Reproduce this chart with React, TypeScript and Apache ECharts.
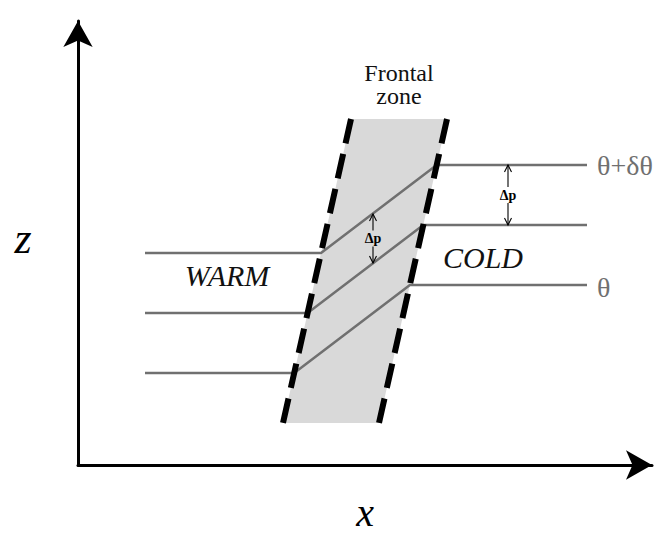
import React, { useEffect, useRef } from "react";
import * as echarts from "echarts";

// Diagram units: x to the right of the z-axis, y above the x-axis (1 unit ~ 1 px)
const xAxisMax = 574;
const yAxisMax = 444;

// Frontal zone edges, each [top, bottom]
const frontWarmEdge = [[273, 346], [205, 42]];
const frontColdEdge = [[369, 346], [301, 42]];

// Isentropes (top to bottom): level on the warm side, level on the cold side,
// and where they meet the two frontal edges
const warmLevels = [212, 152, 92];
const coldLevels = [300, 240, 180];
const warmJunctionX = [243, 229.6, 216.2];
const coldJunctionX = [358.7, 345.3, 331.9];
const warmStartX = 67;
const coldEndX = 509;

// Isentrope labels on the cold side
const thetaLabels = ["θ+δθ", "θ"];
const thetaLabelPos = [
  [519, 299.5],
  [519, 177.5],
];

// Δp arrows: x, lower end, upper end
const deltaPArrows = [
  [295, 202, 251],
  [430, 240, 300],
];
const deltaPLabel = "Δp";

// Text labels
const airMassNames = ["WARM", "COLD"];
const airMassPos = [
  [149, 190],
  [405, 208],
];
const zoneTitle = ["Frontal\nzone"];
const zoneTitlePos = [[321, 381]];
const zName = ["z"];
const zNamePos = [[-55, 227]];
const xName = ["x"];
const xNamePos = [[287, -47.5]];

const SERIF = "Liberation Serif";

export default function App() {
  const ref = useRef<HTMLDivElement>(null);

  useEffect(() => {
    if (!ref.current) return;
    const chart = echarts.init(ref.current, undefined, { renderer: "svg" });

    const isentropeSeries = warmLevels.map((wl, i) => ({
      type: "line",
      z: 3,
      symbol: "none",
      silent: true,
      lineStyle: { color: "#707070", width: 2.5 },
      data: [
        [warmStartX, wl],
        [warmJunctionX[i], wl],
        [coldJunctionX[i], coldLevels[i]],
        [coldEndX, coldLevels[i]],
      ],
    }));

    const edgeSeries = [frontWarmEdge, frontColdEdge].map((edge) => ({
      type: "line",
      z: 4,
      symbol: "none",
      silent: true,
      lineStyle: { color: "#000", width: 6, type: [25, 10.8], cap: "butt" },
      data: edge,
    }));

    chart.setOption({
      animation: false,
      textStyle: { fontFamily: SERIF },
      grid: { left: 78, right: 13, top: 21, bottom: 70 },
      xAxis: {
        type: "value",
        min: 0,
        max: xAxisMax,
        axisLine: {
          show: true,
          onZero: false,
          symbol: ["none", "arrow"],
          symbolSize: [22, 26],
          lineStyle: { color: "#000", width: 3 },
        },
        axisTick: { show: false },
        axisLabel: { show: false },
        splitLine: { show: false },
      },
      yAxis: {
        type: "value",
        min: 0,
        max: yAxisMax,
        axisLine: {
          show: true,
          onZero: false,
          symbol: ["none", "arrow"],
          symbolSize: [22, 26],
          lineStyle: { color: "#000", width: 3 },
        },
        axisTick: { show: false },
        axisLabel: { show: false },
        splitLine: { show: false },
      },
      series: [...isentropeSeries, ...edgeSeries],
    });

    // Everything below is placed through the grid's scales
    const toPx = (p: number[]) => chart.convertToPixel({ gridIndex: 0 }, p) as number[];

    const zoneFill = {
      type: "polygon",
      z: 1,
      silent: true,
      shape: {
        points: [frontWarmEdge[0], frontColdEdge[0], frontColdEdge[1], frontWarmEdge[1]].map(toPx),
      },
      style: { fill: "#d9d9d9" },
    };

    const arrowElements: any[] = [];
    deltaPArrows.forEach((a) => {
      const low = toPx([a[0], a[1]]);
      const high = toPx([a[0], a[2]]);
      const px = low[0];
      const top = high[1];
      const bot = low[1];
      const mid = (top + bot) / 2;
      const gap = 8;
      const head = 7;
      const hw = 3.5;
      const st = { stroke: "#000", lineWidth: 1.1 };
      arrowElements.push(
        { type: "line", z: 10, silent: true, shape: { x1: px, y1: top, x2: px, y2: mid - gap }, style: st },
        { type: "line", z: 10, silent: true, shape: { x1: px, y1: mid + gap, x2: px, y2: bot }, style: st },
        {
          type: "polyline",
          z: 10,
          silent: true,
          shape: { points: [[px - hw, top + head], [px, top], [px + hw, top + head]] },
          style: st,
        },
        {
          type: "polyline",
          z: 10,
          silent: true,
          shape: { points: [[px - hw, bot - head], [px, bot], [px + hw, bot - head]] },
          style: st,
        }
      );
    });

    const makeTexts = (
      texts: string[],
      positions: number[][],
      fontStyle: string,
      fontWeight: string,
      fontSize: number,
      color: string,
      align: string,
      lineHeight?: number
    ) =>
      positions.map((p, i) => {
        const q = toPx(p);
        return {
          type: "text",
          z: 20,
          silent: true,
          x: q[0],
          y: q[1],
          style: {
            text: texts[i],
            fontFamily: SERIF,
            fontStyle,
            fontWeight,
            fontSize,
            fill: color,
            align,
            verticalAlign: "middle",
            lineHeight: lineHeight ?? Math.round(fontSize * 1.2),
          },
        };
      });

    const deltaPTexts = deltaPArrows.map(() => deltaPLabel);
    const deltaPPos = deltaPArrows.map((a) => [a[0], (a[1] + a[2]) / 2]);

    chart.setOption({
      graphic: [
        zoneFill,
        ...arrowElements,
        ...makeTexts(deltaPTexts, deltaPPos, "normal", "bold", 14, "#000", "center"),
        ...makeTexts(airMassNames, airMassPos, "italic", "normal", 30, "#111", "center"),
        ...makeTexts(zoneTitle, zoneTitlePos, "normal", "normal", 24, "#111", "center", 23),
        ...makeTexts(thetaLabels, thetaLabelPos, "normal", "normal", 28, "#707070", "left"),
        ...makeTexts(zName, zNamePos, "italic", "normal", 44, "#000", "center"),
        ...makeTexts(xName, xNamePos, "italic", "normal", 40, "#000", "center"),
      ],
    });

    return () => chart.dispose();
  }, []);

  return (
    <>
      <style>{`
        body { margin: 0; }
        #chart-root svg text, #chart-root svg tspan {
          font-family: 'Liberation Serif', serif !important;
        }
      `}</style>
      <div
        id="chart-root"
        ref={ref}
        style={{
          position: "fixed",
          left: 0,
          top: 0,
          width: 665,
          height: 535,
          background: "#fff",
          fontFamily: "'Liberation Serif', serif",
        }}
      />
    </>
  );
}
